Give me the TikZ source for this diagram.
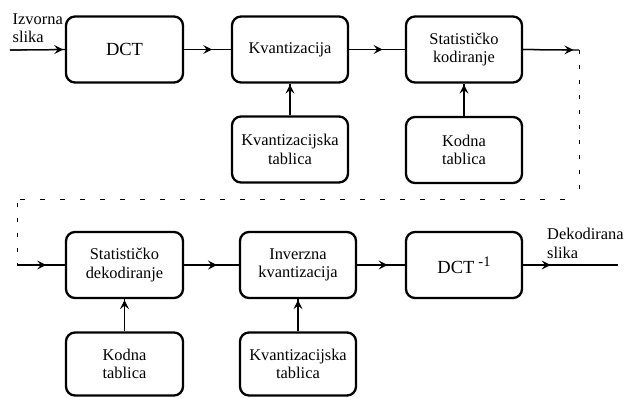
\documentclass[tikz,border=0pt]{standalone}
\usepackage{fontspec}
\setmainfont{Liberation Serif}
\newfontfamily\blockfont{Liberation Serif}
\usetikzlibrary{arrows.meta,calc}

\tikzset{
  % barb sitting on a connector
  barb/.style={line width=1.2pt,-{Stealth[length=9pt,width=9pt,inset=3.5pt]}},
  flow/.style={line width=1.3pt},
  block/.style={draw,line width=2.3pt,rounded corners=9pt,inner sep=0pt,
    minimum width=116pt,minimum height=66pt,align=center,
    font=\blockfont\fontsize{16.4}{18.5}\selectfont},
  lowblock/.style={block,minimum height=63pt},
  caption/.style={inner sep=0pt,align=left,anchor=north west,
    font=\blockfont\fontsize{16.4}{18.5}\selectfont},
  loopline/.style={line width=1pt}
}
% connector from #1 to #2 with a barb whose tip sits at fraction #3
\newcommand\flowline[3]{%
  \draw[flow] (#1) -- (#2);
  \draw[barb] (#1) -- ($(#1)!#3!(#2)$);
}

\begin{document}
\begin{tikzpicture}[x=1pt,y=-1pt]
\useasboundingbox (0,0) rectangle (624,397);

% encoder chain
\node[block,minimum width=117pt,font=\blockfont\fontsize{18.5}{20}\selectfont] (dct) at (124.5,49.5) {DCT};
\node[block] (kv) at (290,49.5) {Kvantizacija};
\node[block] (sk) at (464,49.5) {Statističko\\kodiranje};
\node[block] (kvt) at (290,149.5) {Kvantizacijska\\tablica};
\node[block] (kt) at (464,150) {Kodna\\tablica};

% decoder chain
\node[block,minimum width=117pt] (sd) at (124.5,265) {Statističko\\dekodiranje};
\node[block] (ik) at (298,265) {Inverzna\\kvantizacija};
\node[block] (dinv) at (464,265)
  {\fontsize{18.5}{20}\selectfont DCT\hspace{4pt}\raisebox{7pt}{\fontsize{14.5}{15}\selectfont -1}};
\node[lowblock,minimum width=117pt] (kt2) at (124.5,364) {Kodna\\tablica};
\node[lowblock] (kvt2) at (298,364) {Kvantizacijska\\tablica};

% input / output labels
\node[caption] (inlbl) at (12.5,13.3) {Izvorna\\slika};
\node[caption] (outlbl) at (547,228) {Dekodirana\\slika};

% free ends and corners of the channel loop
\coordinate (in) at (10,50);
\coordinate (out) at (618,265);
\coordinate (c1) at (579,50);
\coordinate (c2) at (579,199);
\coordinate (c3) at (17,199);
\coordinate (c4) at (17,265);

% encoder connectors
\flowline{in}{dct.west}{0.97}
\flowline{dct.east}{kv.west}{0.6}
\flowline{kv.east}{sk.west}{0.6}
\flowline{sk.east}{c1}{0.9}
\flowline{kvt.north}{kv.south}{0.97}
\flowline{kt.north}{sk.south}{0.97}

% channel (dashed loop)
\draw[loopline,dash pattern=on 4pt off 11pt] (c1) -- (c2);
\draw[loopline,dash pattern=on 5pt off 15pt,dash phase=-14pt] (c2) -- (c3);
\draw[loopline,dash pattern=on 4pt off 11pt,dash phase=-4pt] (c3) -- (c4);

% decoder connectors
\flowline{c4}{sd.west}{0.61}
\flowline{sd.east}{ik.west}{0.6}
\flowline{ik.east}{dinv.west}{0.64}
\flowline{dinv.east}{out}{0.29}
\flowline{kt2.north}{sd.south}{0.97}
\flowline{kvt2.north}{ik.south}{0.97}
\end{tikzpicture}
\end{document}
